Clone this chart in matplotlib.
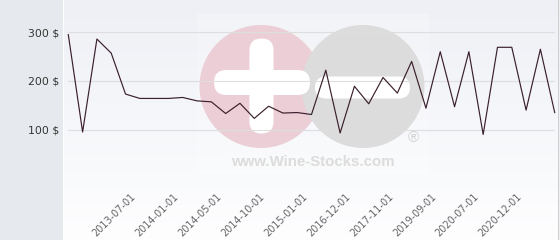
import numpy as np
import matplotlib
matplotlib.use("Agg")
import matplotlib.pyplot as plt
from matplotlib.patches import Rectangle, Circle, FancyBboxPatch
from matplotlib.transforms import ScaledTranslation

# -------------------------------------------------------------------
#  Data
# -------------------------------------------------------------------
dates = [
    "2012-09-01", "2012-12-01", "2013-02-01", "2013-04-01", "2013-07-01",
    "2013-09-01", "2013-11-01", "2014-01-01", "2014-02-01", "2014-04-01",
    "2014-05-01", "2014-07-01", "2014-08-01", "2014-10-01", "2014-11-01",
    "2014-12-01", "2015-01-01", "2015-06-01", "2016-03-01", "2016-12-01",
    "2017-04-01", "2017-07-01", "2017-11-01", "2018-06-01", "2019-01-01",
    "2019-09-01", "2019-12-01", "2020-03-01", "2020-07-01", "2020-09-01",
    "2020-11-01", "2020-12-01", "2021-03-01", "2021-06-01", "2021-09-01",
]
prices = [
    295, 95, 286, 257, 173, 164, 164, 164, 166, 159,
    157, 133, 154, 123, 148, 134, 135, 131, 222, 93,
    189, 153, 207, 175, 240, 144, 260, 147, 260, 90,
    269, 269, 140, 265, 135,
]
y_ticks = [0, 100, 200, 300]
y_tick_labels = ["", "100 $", "200 $", "300 $"]
label_every = 3
label_start = 4

W, H = 560, 240
fig = plt.figure(figsize=(W / 100, H / 100), dpi=100)

# -------------------------------------------------------------------
#  Background layer (pixel coordinates)
# -------------------------------------------------------------------
bg = fig.add_axes([0, 0, 1, 1])
bg.set_xlim(0, W)
bg.set_ylim(H, 0)
bg.axis("off")

bg.add_patch(Rectangle((0, 0), 62.5, H, color="#e6eaee", lw=0))
bg.add_patch(Rectangle((62.5, 0), 1.5, H, color="white", lw=0))
top = np.array([238, 240, 245]) / 255
bottom = np.array([254, 254, 255]) / 255
t = np.linspace(0, 1, 200)[:, None, None]
grad = top * (1 - t) + bottom * t
bg.imshow(grad, extent=(64, 557.5, H, 0), aspect="auto", zorder=0)
bg.add_patch(Rectangle((557.5, 0), 1.2, H, color="#cfcfcf", lw=0, zorder=1))
bg.add_patch(Rectangle((558.7, 0), 1.3, H, color="#eef0f3", lw=0, zorder=1))

# watermark
bg.add_patch(Rectangle((197, 14), 232, 160, color="white", alpha=0.22, lw=0, zorder=1))
bg.add_patch(Circle((261, 86.5), 61.5, color="#eccfd6", lw=0, zorder=2))
bg.add_patch(Circle((363, 86.5), 61.5, color="#dcdcdc", lw=0, zorder=2))
bg.add_patch(FancyBboxPatch((249.5 + 12, 38.5 + 12), 24 - 24, 95 - 24,
                            boxstyle="round,pad=12", color="white", lw=0, zorder=3))
bg.add_patch(FancyBboxPatch((214 + 12.5, 70 + 12.5), 96 - 25, 25 - 25,
                            boxstyle="round,pad=12.5", color="white", lw=0, zorder=3))
bg.add_patch(FancyBboxPatch((315 + 11, 76.5 + 11), 95 - 22, 22 - 22,
                            boxstyle="round,pad=11", color="white", lw=0, zorder=3))
bg.text(413, 138.5, "\u00ae", ha="center", va="center", fontsize=11,
        color="#d2d2d2", family="Liberation Sans", zorder=3)
bg.text(312.5, 161.5, "www.Wine-Stocks.com", ha="center", va="center",
        fontsize=10.8, fontweight="bold", color="#dcdcdc",
        family="Liberation Sans", zorder=3)

# -------------------------------------------------------------------
#  Plot area
# -------------------------------------------------------------------
x0, x1 = 68.3, 554.7
y_base = 178.3
px_per_100 = 48.7
ax = fig.add_axes([x0 / W, (H - y_base) / H, (x1 - x0) / W, y_base / H])
ax.patch.set_alpha(0)
for s in ax.spines.values():
    s.set_visible(False)

xs = np.arange(len(prices))
ax.plot(xs, prices, color="#3a1f2c", lw=0.85, clip_on=False, zorder=3)

ax.set_xlim(0, len(prices) - 1)
ax.set_ylim(0, y_base / px_per_100 * 100)

ax.set_yticks(y_ticks)
ax.set_yticklabels(y_tick_labels)
ax.grid(axis="y", color="#dedede", lw=0.8)
ax.tick_params(axis="y", length=0, pad=6.3, labelsize=7.8, labelcolor="#333333")

tick_idx = list(range(label_start, len(dates) - 2, label_every))
ax.set_xticks(tick_idx)
ax.set_xticklabels([dates[i] for i in tick_idx], rotation=45, ha="right",
                   va="top", rotation_mode="anchor")
ax.tick_params(axis="x", length=0, pad=9.8, labelsize=7.0, labelcolor="#666666")
shift = ScaledTranslation(0.05, 0, fig.dpi_scale_trans)
for lab in ax.get_xticklabels():
    lab.set_transform(lab.get_transform() + shift)

fig.savefig("out.png", dpi=100)
